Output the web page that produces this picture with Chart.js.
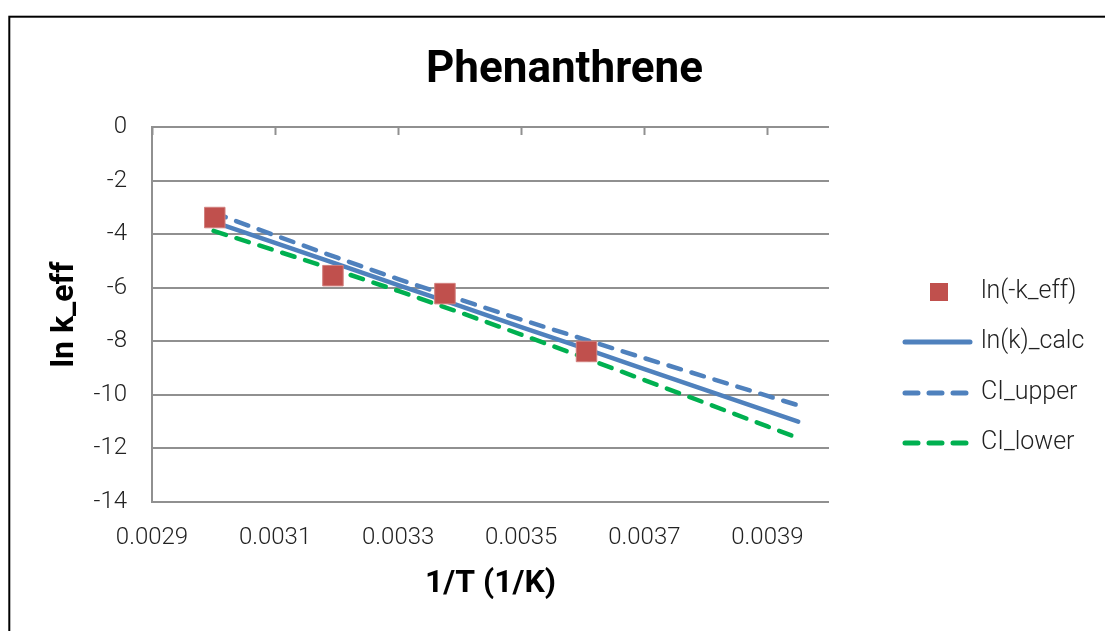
<!DOCTYPE html>
<html>
<head>
<meta charset="utf-8">
<script src="https://cdn.jsdelivr.net/npm/chart.js@4"></script>
<style>
  html, body { margin: 0; padding: 0; background: #fff; }
  #wrap { width: 1105px; height: 631px; position: relative; }
</style>
</head>
<body>
<div id="wrap"><canvas id="phenChart" width="1105" height="631"></canvas></div>
<script>
// measured points
const obsX = [0.003002, 0.003194, 0.003376, 0.003606];
const obsY = [-3.38, -5.55, -6.22, -8.38];

// fitted line and confidence band
const fitX = [0.0030, 0.0031, 0.0032, 0.0033, 0.0034, 0.0035, 0.0036, 0.0037, 0.0038, 0.0039, 0.00395];
const calcY = [-3.54, -4.33, -5.11, -5.90, -6.68, -7.47, -8.25, -9.04, -9.82, -10.61, -11.00];
const upperY = [-3.20, -4.05, -4.87, -5.68, -6.44, -7.19, -7.91, -8.63, -9.33, -10.04, -10.39];
const lowerY = [-3.88, -4.61, -5.35, -6.12, -6.92, -7.75, -8.59, -9.45, -10.31, -11.18, -11.61];

const xTicks = [0.0029, 0.0031, 0.0033, 0.0035, 0.0037, 0.0039];
const yTicks = [0, -2, -4, -6, -8, -10, -12, -14];

const seriesNames = ['ln(-k_eff)', 'ln(k)_calc', 'CI_upper', 'CI_lower'];

const RED = '#c0504d';
const BLUE = '#4f81bd';
const GREEN = '#00b050';
const GRID = '#909090';
const TXT = '#222';
const DASH = [13, 11];

function pts(xs, ys) {
  return xs.map((x, i) => ({ x: x, y: ys[i] }));
}

// frame, title, top tick marks and legend
const decor = {
  id: 'decor',
  beforeDraw(chart) {
    const c = chart.ctx;
    c.save();
    c.strokeStyle = '#000';
    c.lineWidth = 2;
    c.strokeRect(9.3, 16.7, 1300, 1000);
    c.fillStyle = '#000';
    c.font = 'bold 44px Roboto';
    c.textAlign = 'center';
    c.textBaseline = 'alphabetic';
    c.fillText('Phenanthrene', 564.5, 82);
    c.restore();
  },
  beforeDatasetsDraw(chart) {
    const c = chart.ctx;
    const xs = chart.scales.x;
    const top = chart.scales.y.getPixelForValue(0);
    c.save();
    c.strokeStyle = GRID;
    c.lineWidth = 2;
    xTicks.forEach(v => {
      const px = Math.round(xs.getPixelForValue(v)) + 0.5;
      c.beginPath();
      c.moveTo(px, top);
      c.lineTo(px, top + 8);
      c.stroke();
    });
    c.restore();
  },
  afterDraw(chart) {
    const c = chart.ctx;
    const ds = chart.data.datasets;
    const rows = [292, 342, 393, 443];
    c.save();
    c.font = '300 25px Roboto';
    c.textAlign = 'left';
    c.textBaseline = 'middle';
    ds.forEach((d, i) => {
      const y = rows[i];
      if (i === 0) {
        c.fillStyle = d.backgroundColor;
        c.fillRect(930, y - 9, 18, 18);
      } else {
        c.strokeStyle = d.borderColor;
        c.lineWidth = 5;
        c.lineCap = 'round';
        c.setLineDash(d.borderDash || []);
        c.beginPath();
        c.moveTo(905, y);
        c.lineTo(970, y);
        c.stroke();
        c.setLineDash([]);
      }
      c.fillStyle = TXT;
      c.fillText(d.label, 981, y);
    });
    c.restore();
  }
};

new Chart(document.getElementById('phenChart').getContext('2d'), {
  type: 'scatter',
  data: {
    datasets: [
      {
        label: seriesNames[0],
        data: pts(obsX, obsY),
        showLine: false,
        pointStyle: 'rect',
        pointRadius: 14.5,
        pointHoverRadius: 14.5,
        backgroundColor: RED,
        borderColor: '#d2807e',
        borderWidth: 1,
        order: 0
      },
      {
        label: seriesNames[1],
        data: pts(fitX, calcY),
        showLine: true,
        pointRadius: 0,
        borderColor: BLUE,
        backgroundColor: BLUE,
        borderWidth: 4.5,
        borderCapStyle: 'round',
        order: 1
      },
      {
        label: seriesNames[2],
        data: pts(fitX, upperY),
        showLine: true,
        pointRadius: 0,
        borderColor: BLUE,
        backgroundColor: BLUE,
        borderWidth: 4.5,
        borderDash: DASH,
        borderCapStyle: 'round',
        order: 2
      },
      {
        label: seriesNames[3],
        data: pts(fitX, lowerY),
        showLine: true,
        pointRadius: 0,
        borderColor: GREEN,
        backgroundColor: GREEN,
        borderWidth: 4.5,
        borderDash: DASH,
        borderCapStyle: 'round',
        order: 3
      }
    ]
  },
  options: {
    responsive: false,
    animation: false,
    layout: { padding: { left: 0, top: 127, right: 276, bottom: 0 } },
    plugins: {
      legend: { display: false },
      title: { display: false },
      tooltip: { enabled: false }
    },
    scales: {
      x: {
        type: 'linear',
        min: 0.0029,
        max: 0.004,
        afterBuildTicks(scale) {
          scale.ticks = xTicks.map(v => ({ value: v }));
        },
        afterFit(scale) { scale.height = 129; },
        grid: { display: false, drawTicks: false },
        border: { display: false },
        ticks: {
          padding: 22,
          color: TXT,
          font: { family: 'Roboto', size: 24, weight: '300' },
          maxRotation: 0,
          callback: v => Number(v).toFixed(4)
        },
        title: {
          display: true,
          text: '1/T (1/K)',
          color: '#000',
          font: { family: 'Roboto', size: 32, weight: 'bold' },
          padding: { top: 0, bottom: 28 }
        }
      },
      y: {
        min: -14,
        max: 0,
        afterBuildTicks(scale) {
          scale.ticks = yTicks.map(v => ({ value: v }));
        },
        afterFit(scale) { scale.width = 152; },
        grid: { color: GRID, lineWidth: 2, drawTicks: false },
        border: { display: true, color: GRID, width: 2 },
        ticks: {
          padding: 25,
          color: TXT,
          font: { family: 'Roboto', size: 24, weight: '300' }
        },
        title: {
          display: true,
          text: 'ln k_eff',
          color: '#000',
          font: { family: 'Roboto', size: 32, weight: 'bold' },
          padding: { top: 46, bottom: 0 }
        }
      }
    }
  },
  plugins: [decor]
});
</script>
</body>
</html>
